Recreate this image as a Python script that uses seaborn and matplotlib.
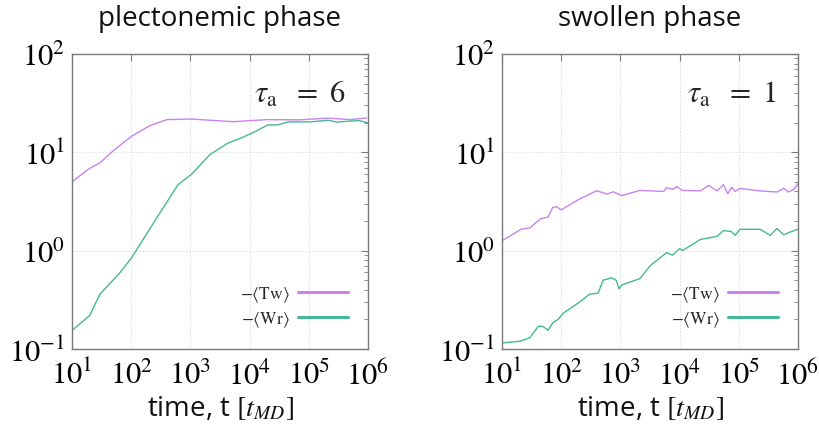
import numpy as np
import pandas as pd
import matplotlib
matplotlib.use("Agg")
import matplotlib.pyplot as plt
import seaborn as sns
from matplotlib.ticker import LogLocator, NullFormatter, FixedLocator

# ---- plectonemic phase (tau_a = 6) ----
plect_t_tw = [1e1, 1.86e1, 2.95e1, 4.9e1, 1.02e2, 2.04e2, 3.98e2, 1.05e3, 2.75e3, 5.25e3,
              1.95e4, 7.1e4, 2.14e5, 5.0e5, 9.5e5]
plect_tw = [5.0, 6.7, 7.8, 10.3, 14.6, 18.6, 21.5, 21.8, 21.0, 20.5,
            21.5, 21.4, 22.3, 21.5, 22.4]
plect_t_wr = [1e1, 2.0e1, 2.95e1, 6.5e1, 1.02e2, 2.04e2, 3.98e2, 6.2e2, 1.05e3, 2.14e3,
              4.4e3, 6.8e3, 1.15e4, 2.04e4, 3.0e4, 4.5e4, 1.05e5, 2.14e5, 2.95e5,
              5.0e5, 7.2e5, 1.0e6]
plect_wr = [0.154, 0.22, 0.36, 0.6, 0.85, 1.65, 3.1, 4.7, 6.0, 9.5,
            12.5, 13.8, 15.9, 19.0, 19.0, 20.4, 20.4, 21.2, 20.3,
            20.8, 21.0, 19.9]

# ---- swollen phase (tau_a = 1) ----
swol_t_tw = [1e1, 2.14e1, 2.95e1, 4.4e1, 6.0e1, 7.2e1, 8.3e1, 1.0e2, 2.04e2, 3.98e2,
             5.9e2, 7.6e2, 1.05e3, 2.14e3, 5.4e3, 6.0e3, 7.9e3, 8.9e3, 1.1e4, 2.24e4,
             3.1e4, 4.3e4, 5.5e4, 6.5e4, 7.6e4, 8.7e4, 1.05e5, 2.3e5, 4.4e5, 5.75e5,
             6.9e5, 8.5e5, 1.0e6]
swol_tw = [1.26, 1.66, 1.7, 2.1, 2.2, 2.75, 2.8, 2.6, 3.35, 4.07,
           3.76, 3.97, 3.63, 4.1, 4.0, 4.37, 4.2, 4.5, 4.1, 4.05,
           4.6, 4.05, 4.7, 3.8, 4.4, 4.0, 4.3, 4.05, 3.95, 4.3,
           3.95, 4.2, 4.8]
swol_t_wr = [1e1, 2.0e1, 2.95e1, 4.1e1, 4.9e1, 6.0e1, 7.2e1, 8.9e1, 1.07e2, 2.04e2,
             3.0e2, 4.2e2, 5.1e2, 7.1e2, 8.5e2, 9.5e2, 1.07e3, 2.14e3, 3.16e3, 6.0e3,
             7.6e3, 1.0e4, 1.12e4, 2.24e4, 4.3e4, 5.5e4, 7.4e4, 8.7e4, 1.05e5, 2.3e5,
             3.4e5, 4.4e5, 5.75e5, 7.4e5, 1.0e6]
swol_wr = [0.115, 0.12, 0.13, 0.17, 0.17, 0.155, 0.185, 0.2, 0.23, 0.3,
           0.36, 0.37, 0.5, 0.53, 0.5, 0.41, 0.45, 0.52, 0.7, 0.955,
           0.9, 1.05, 1.0, 1.3, 1.4, 1.6, 1.57, 1.43, 1.65, 1.65,
           1.43, 1.68, 1.45, 1.55, 1.65]

panels = [
    ("plectonemic phase", "6", plect_t_tw, plect_tw, plect_t_wr, plect_wr),
    ("swollen phase", "1", swol_t_tw, swol_tw, swol_t_wr, swol_wr),
]

x_ticks = [1e1, 1e2, 1e3, 1e4, 1e5, 1e6]
x_labels = [r"$10^{1}$", r"$10^{2}$", r"$10^{3}$", r"$10^{4}$", r"$10^{5}$", r"$10^{6}$"]
y_ticks = [1e-1, 1e0, 1e1, 1e2]
y_labels = [r"$10^{-1}$", r"$10^{0}$", r"$10^{1}$", r"$10^{2}$"]

TW_COLOR = "#c983ef"
WR_COLOR = "#45b895"
SPINE = "#7a7a7a"

sns.set_theme(style="white")
plt.rcParams["font.family"] = ["Open Sans", "DejaVu Sans"]
plt.rcParams["mathtext.fontset"] = "stix"

fig = plt.figure(figsize=(8.2, 4.35), dpi=100)
rects = [[72 / 820, 85 / 435, 296 / 820, 295 / 435],
         [502 / 820, 85 / 435, 296 / 820, 295 / 435]]

for rect, (title, tau, t_tw, tw, t_wr, wr) in zip(rects, panels):
    ax = fig.add_axes(rect)
    df_tw = pd.DataFrame({"t": t_tw, "v": tw})
    df_wr = pd.DataFrame({"t": t_wr, "v": wr})
    sns.lineplot(data=df_tw, x="t", y="v", ax=ax, color=TW_COLOR, lw=1.0,
                 label=r"$-\langle\mathrm{Tw}\rangle$")
    sns.lineplot(data=df_wr, x="t", y="v", ax=ax, color=WR_COLOR, lw=1.0,
                 label=r"$-\langle\mathrm{Wr}\rangle$")
    ax.set_xscale("log")
    ax.set_yscale("log")
    ax.set_xlim(1e1, 1e6)
    ax.set_ylim(1e-1, 1e2)

    ax.xaxis.set_major_locator(FixedLocator(x_ticks))
    ax.set_xticklabels(x_labels)
    ax.yaxis.set_major_locator(FixedLocator(y_ticks))
    ax.set_yticklabels(y_labels)
    ax.xaxis.set_minor_locator(LogLocator(base=10, subs=np.arange(2, 10)))
    ax.yaxis.set_minor_locator(LogLocator(base=10, subs=np.arange(2, 10)))
    ax.xaxis.set_minor_formatter(NullFormatter())
    ax.yaxis.set_minor_formatter(NullFormatter())

    ax.tick_params(which="both", direction="in", top=True, right=True,
                   color=SPINE, labelsize=22, labelcolor="black")
    ax.tick_params(which="major", length=5, width=0.8)
    ax.tick_params(which="minor", length=3, width=0.6)
    ax.tick_params(axis="x", which="major", pad=8)
    ax.tick_params(axis="y", which="major", pad=5)
    for s in ax.spines.values():
        s.set_color(SPINE)
        s.set_linewidth(1.0)
    ax.grid(True, which="major", color="#dcdcdc", linestyle=(0, (2, 2)), linewidth=0.6)

    ax.set_title(title, fontsize=20, pad=21, color="#111111")
    ax.set_xlabel(r"time, t $[t_{MD}]$", fontsize=20, labelpad=2, color="#111111")
    ax.set_ylabel("")
    ax.text(0.925, 0.865, r"$\tau_{\mathrm{a}}\ \ =\ %s$" % tau, transform=ax.transAxes,
            ha="right", va="center", fontsize=22)

    leg = ax.legend(loc="lower right", markerfirst=False, frameon=False,
                    fontsize=12.5, handlelength=2.9, handletextpad=0.45,
                    labelspacing=0.3, borderpad=0.4,
                    bbox_to_anchor=(0.985, 0.015))
    for line in leg.get_lines():
        line.set_linewidth(2.2)

fig.savefig("out.png", dpi=100)
